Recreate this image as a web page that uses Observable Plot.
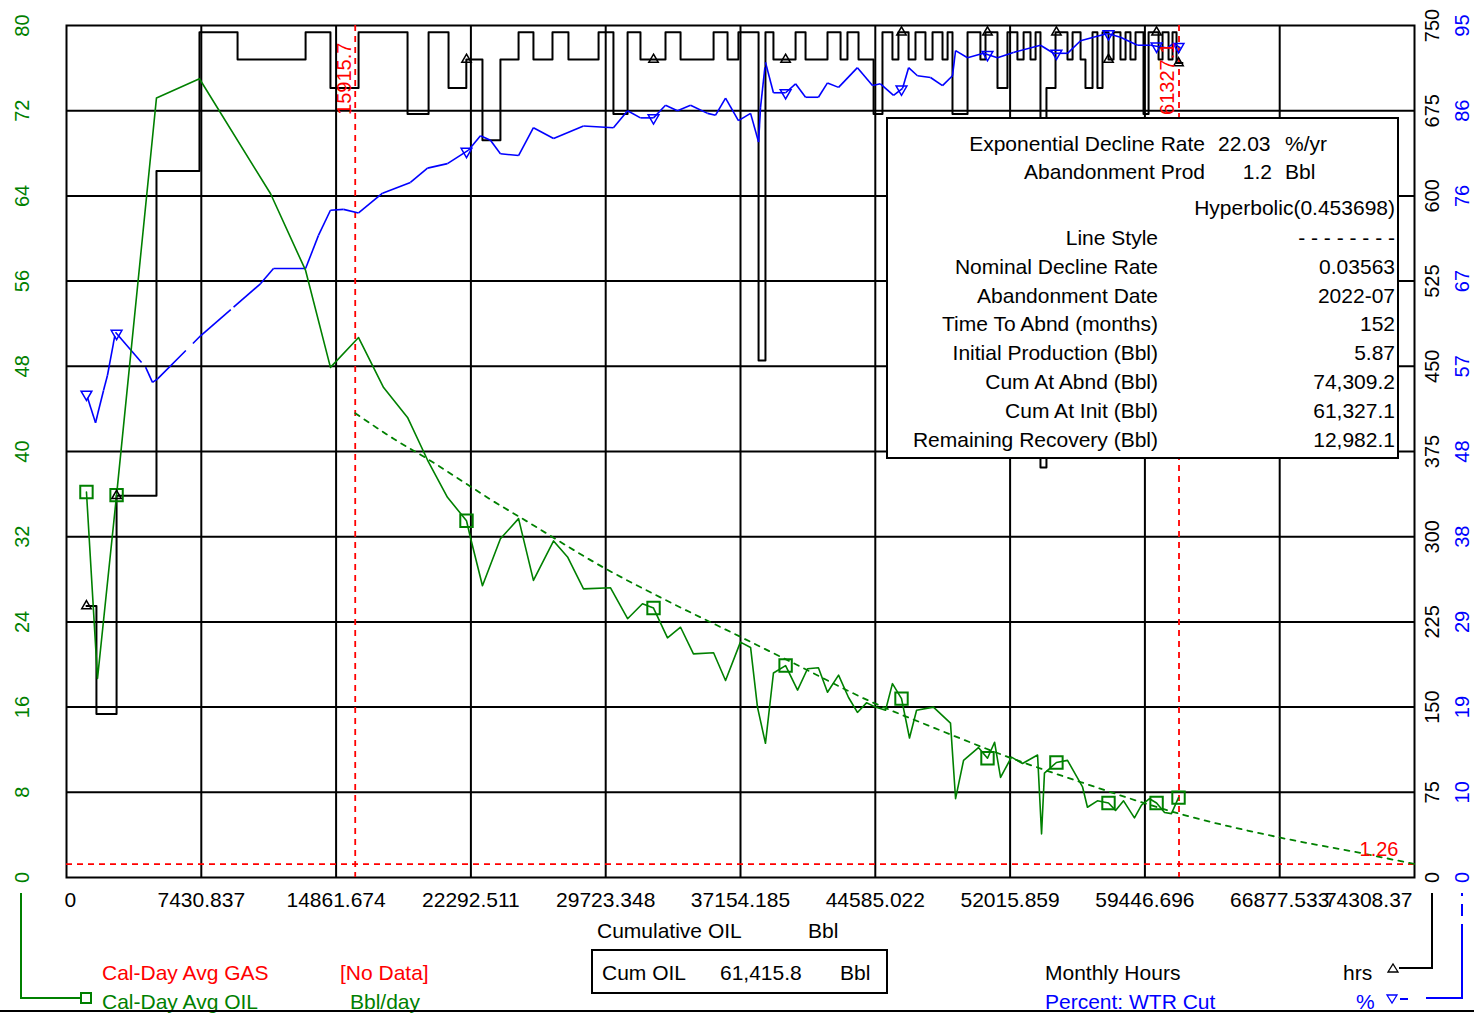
<!DOCTYPE html>
<html><head><meta charset="utf-8">
<script src="https://cdn.jsdelivr.net/npm/d3@7"></script>
<script src="https://cdn.jsdelivr.net/npm/@observablehq/plot@0.6"></script>
<style>
html,body{margin:0;padding:0;background:#fff;overflow:hidden}
#wrap{position:relative;width:1474px;height:1013px;font-family:"Liberation Sans",Arial,sans-serif;overflow:hidden}
.t{position:absolute;white-space:pre;line-height:1;font-size:21px;color:#000}
</style></head><body><div id="wrap"></div>
<script>
const GREEN = "#008000", BLUE = "#0000ff", RED = "#ff0000";

// axis ticks
const xTicks = [0, 7430.837, 14861.674, 22292.511, 29723.348, 37154.185, 44585.022, 52015.859, 59446.696, 66877.533, 74308.37];
const xTickLabels = ["0", "7430.837", "14861.674", "22292.511", "29723.348", "37154.185", "44585.022", "52015.859", "59446.696", "66877.533", "74308.37"];
const oilTicks = [0, 8, 16, 24, 32, 40, 48, 56, 64, 72, 80];
const hoursTicks = [0, 75, 150, 225, 300, 375, 450, 525, 600, 675, 750];
const wtrTickLabels = [0, 10, 19, 29, 38, 48, 57, 67, 76, 86, 95];

// Cal-Day Avg OIL (Bbl/day) vs cumulative oil
const oilHistory = [
[1100,36.2],[1710,18.7],[2760,35.9],[4960,73.2],[7330,75.0],[11250,64.2],[13180,57.0],[14550,47.9],[16100,50.7],[17480,46.0],
[18800,43.2],[19900,39.2],[21000,35.7],[22050,33.5],[22270,31.9],[22930,27.4],[23920,31.8],[24920,33.7],[25740,27.9],[26850,31.6],
[27620,30.1],[28500,27.1],[29990,27.2],[30930,24.3],[31750,25.7],[32360,25.3],[33130,22.5],[33850,23.5],[34560,21.0],[35670,21.1],
[36330,18.5],[37150,22.1],[37710,21.6],[38090,16.0],[38530,12.6],[38970,19.2],[39640,19.9],[40300,17.6],[40850,19.6],[41450,19.7],
[41950,17.4],[42560,19.0],[43110,16.9],[43600,15.5],[44100,16.4],[44600,16.0],[45150,15.7],[45530,18.2],[46030,16.8],[46470,13.1],
[46860,15.7],[47790,16.0],[48730,14.5],[49010,7.4],[49450,11.0],[50270,12.2],[50770,11.2],[51160,12.7],[51490,9.4],[52090,11.3],
[52700,10.7],[53530,11.5],[53750,4.1],[53910,9.8],[54570,10.8],[55180,11.0],[56010,8.5],[56280,6.6],[56830,7.2],[57440,7.0],
[57830,6.3],[58270,7.2],[58870,5.6],[59260,6.8],[59700,7.4],[60090,7.0],[60530,6.1],[60910,6.0],[61300,7.5]
];

// Hyperbolic forecast (dotted)
const forecast = [
[15916,43.6],[18030,41.2],[19900,39.3],[22100,36.9],[23370,35.5],[25030,33.8],[29820,28.9],[32740,26.3],[37150,22.6],
[39750,20.4],[44490,16.4],[47900,14.0],[52090,11.2],[56010,8.9],[61330,6.0],[67030,3.7],[71330,2.3],[74308,1.26]
];

// Percent WTR Cut
const wtrHistory = [
[1160,53.5],[1600,50.7],[2040,54.3],[2260,56.0],[2700,60.8],[4360,56.9],[4740,55.2],[5020,55.6],[7390,60.4],[9210,63.6],
[10690,66.2],[11410,67.9],[13180,67.9],[13890,71.6],[14550,74.4],[15270,74.5],[16100,74.1],[17420,76.3],[18960,77.5],[19900,79.1],
[21000,79.6],[22160,81.1],[22820,82.7],[23370,82.2],[23920,80.7],[24920,80.5],[25740,83.6],[26850,82.4],[28500,83.8],[30150,83.6],
[30930,85.5],[31640,84.7],[32360,84.7],[33020,86.1],[33680,85.5],[34400,86.1],[35340,85.2],[35780,85.0],[36330,86.9],[37040,84.4],
[37710,85.2],[38150,82.0],[38260,85.9],[38530,90.9],[38970,87.5],[39640,87.5],[40190,88.5],[40740,87.0],[41450,87.0],[41950,88.6],
[42560,88.1],[43600,90.3],[44430,88.3],[44870,88.5],[45590,87.2],[46090,88.0],[46420,90.3],[46910,89.4],[47630,89.2],[48290,88.3],
[48840,89.4],[49010,92.2],[49670,91.4],[50550,91.9],[51320,91.4],[52200,92.0],[53690,92.8],[54410,91.9],[55180,91.9],[55900,93.3],
[56610,93.7],[57390,94.1],[58100,93.7],[59040,92.8],[59760,92.8],[60690,92.5],[61020,93.0],[61410,92.5]
];

// Monthly Hours (step starts)
const hoursHistory = [
[1100,239],[1650,144],[2760,336],[4960,622],[7330,744],[9430,720],[13180,744],[14550,695],[16100,744],[18800,672],
[19960,744],[21060,695],[22040,720],[22930,649],[23920,720],[24920,744],[25740,720],[26790,744],[27670,720],[29330,744],
[30150,672],[30930,744],[31640,720],[33020,744],[33850,720],[35670,744],[36440,720],[37040,744],[38150,455],[38530,744],
[38970,720],[40190,744],[40740,720],[41950,744],[42670,720],[43050,744],[43660,720],[44490,672],[44980,744],[45530,720],
[45860,744],[46420,720],[46800,744],[47350,720],[47740,744],[48290,720],[48570,744],[48840,672],[49670,744],[50380,720],
[50660,744],[51320,695],[51870,744],[52420,720],[52760,744],[53140,720],[53420,744],[53690,361],[54020,695],[54520,744],
[55180,720],[55460,744],[55900,720],[56170,695],[56560,744],[56830,695],[57110,744],[57440,720],[57720,744],[58100,720],
[58380,744],[58650,720],[58930,744],[59370,672],[59650,744],[60200,720],[60420,744],[60750,720],[60970,744],[61190,717],[61520,717]
];

// yearly marker positions (cumulative oil)
const markerCum = [1100, 2760, 22050, 32360, 39640, 46030, 50770, 54570, 57440, 60090, 61300];
const cutoffCum = [15915.7, 61327.1];
const abandonRate = 1.26;

// info box
const infoTop = [["Exponential Decline Rate", "22.03", "%/yr"], ["Abandonment Prod", "1.2", "Bbl"]];
const infoModel = "Hyperbolic(0.453698)";
const infoLabels = ["Line Style", "Nominal Decline Rate", "Abandonment Date", "Time To Abnd (months)", "Initial Production (Bbl)", "Cum At Abnd (Bbl)", "Cum At Init (Bbl)", "Remaining Recovery (Bbl)"];
const infoValues = ["- - - - - - - -", "0.03563", "2022-07", "152", "5.87", "74,309.2", "61,327.1", "12,982.1"];

// scale conversions onto the 0-80 oil axis
const H = v => v * 80 / 750;
const W = v => v * 80 / 95;
function interp(arr, c) {
  for (let i = 1; i < arr.length; i++) {
    if (arr[i][0] >= c) {
      const [x0, y0] = arr[i - 1], [x1, y1] = arr[i];
      return y0 + (y1 - y0) * (c - x0) / (x1 - x0);
    }
  }
  return arr[arr.length - 1][1];
}
function stepAt(arr, c) {
  let v = arr[0][1];
  for (const [x, y] of arr) if (x <= c) v = y;
  return v;
}
const wtrSegs = wtrHistory.slice(1).map((p, i) => ({x1: wtrHistory[i][0], y1: W(wtrHistory[i][1]), x2: p[0], y2: W(p[1])}));

const chart = Plot.plot({
  width: 1474, height: 1013,
  marginLeft: 66, marginRight: 60, marginTop: 25, marginBottom: 136,
  x: {domain: [0, 74308.37], axis: null},
  y: {domain: [0, 80], axis: null},
  style: {background: "white", fontFamily: "Liberation Sans, Arial, sans-serif", fontSize: "21px", overflow: "visible"},
  marks: [
    Plot.ruleY(oilTicks.slice(1, -1), {stroke: "#000", strokeWidth: 2}),
    Plot.ruleX(xTicks.slice(1, -1), {stroke: "#000", strokeWidth: 2}),
    Plot.frame({stroke: "#000", strokeWidth: 2}),
    Plot.ruleX(cutoffCum, {stroke: RED, strokeWidth: 1.8, strokeDasharray: "6,5"}),
    Plot.ruleY([abandonRate], {stroke: RED, strokeWidth: 1.8, strokeDasharray: "6,5"}),
    Plot.line(hoursHistory, {x: d => d[0], y: d => H(d[1]), curve: "step-after", stroke: "#000", strokeWidth: 2}),
    Plot.link(wtrSegs, {x1: "x1", y1: "y1", x2: "x2", y2: "y2", stroke: BLUE, strokeWidth: 1.6, strokeDasharray: "40,10"}),
    Plot.line(forecast, {x: d => d[0], y: d => d[1], curve: "monotone-x", stroke: GREEN, strokeWidth: 1.8, strokeDasharray: "5,6"}),
    Plot.line(oilHistory, {x: d => d[0], y: d => d[1], stroke: GREEN, strokeWidth: 1.6}),
    Plot.dot(markerCum, {x: d => d, y: d => interp(oilHistory, d), symbol: "square", r: 7, stroke: GREEN, fill: "none", strokeWidth: 2}),
    Plot.dot(markerCum, {x: d => d, y: d => H(stepAt(hoursHistory, d)), symbol: "triangle", r: 3.5, stroke: "#000", fill: "none", strokeWidth: 1.5}),
    Plot.dot(markerCum, {x: d => d, y: d => W(interp(wtrHistory, d)), symbol: "triangle", rotate: 180, r: 4, stroke: BLUE, fill: "none", strokeWidth: 1.5}),
    // red annotations
    Plot.text(cutoffCum, {x: d => d, y: 75, text: d => String(d), rotate: -90, dx: -11, textAnchor: "middle", fill: RED, fontSize: 20}),
    Plot.text([abandonRate], {x: 74308.37, y: d => d, text: d => String(d), textAnchor: "end", dx: -16, dy: -14, fill: RED, fontSize: 20}),
    // left axis (oil)
    Plot.text(oilTicks, {y: d => d, text: d => String(d), frameAnchor: "left", textAnchor: "middle", lineAnchor: "middle", dx: -44, rotate: -90, fill: GREEN, fontSize: 20}),
    // right axes (hours, wtr)
    Plot.text(hoursTicks, {y: d => H(d), text: d => String(d), frameAnchor: "right", textAnchor: "middle", lineAnchor: "middle", dx: 18, rotate: -90, fill: "#000", fontSize: 20}),
    Plot.text(wtrTickLabels, {y: (d, i) => oilTicks[i], text: d => String(d), frameAnchor: "right", textAnchor: "middle", lineAnchor: "middle", dx: 48, rotate: -90, fill: BLUE, fontSize: 20}),
    // x axis labels
    Plot.text(xTicks.slice(0, 1), {x: d => d, text: (d, i) => xTickLabels[i], frameAnchor: "bottom", lineAnchor: "middle", dy: 23, textAnchor: "start", dx: -2, fill: "#000"}),
    Plot.text(xTicks.slice(1, -1), {x: d => d, text: (d, i) => xTickLabels[i + 1], frameAnchor: "bottom", lineAnchor: "middle", dy: 23, textAnchor: "middle", fill: "#000"}),
    Plot.text(xTicks.slice(-1), {x: d => d, text: () => xTickLabels[xTickLabels.length - 1], frameAnchor: "bottom", lineAnchor: "middle", dy: 23, textAnchor: "end", dx: -2, fill: "#000"})
  ]
});
const wrap = document.getElementById("wrap");
chart.style.position = "absolute"; chart.style.left = "0"; chart.style.top = "0";
wrap.appendChild(chart);

function txt(s, x, y, o = {}) {
  const d = document.createElement("div");
  d.className = "t"; d.textContent = s;
  d.style.left = x + "px"; d.style.top = y + "px";
  const a = o.anchor === "end" ? "-100%" : o.anchor === "middle" ? "-50%" : "0";
  d.style.transform = `translate(${a},-50%)`;
  if (o.color) d.style.color = o.color;
  if (o.size) d.style.fontSize = o.size + "px";
  wrap.appendChild(d);
}
function box(x, y, w, h, border) {
  const d = document.createElement("div");
  Object.assign(d.style, {position: "absolute", left: x + "px", top: y + "px", width: w + "px", height: h + "px", border: border, background: "#fff", boxSizing: "border-box"});
  wrap.appendChild(d);
}

// info box
box(886, 117, 513, 342, "2px solid #000");
txt(infoTop[0][0], 1205, 143, {anchor: "end"});
txt(infoTop[0][1], 1218, 143);
txt(infoTop[0][2], 1285, 143);
txt(infoTop[1][0], 1205, 171, {anchor: "end"});
txt(infoTop[1][1], 1272, 171, {anchor: "end"});
txt(infoTop[1][2], 1285, 171);
txt(infoModel, 1395, 207, {anchor: "end"});
const rowY = [237, 266, 295, 323, 352, 381, 410, 439];
infoLabels.forEach((l, i) => {
  txt(l, 1158, rowY[i], {anchor: "end"});
  txt(infoValues[i], 1395, rowY[i], {anchor: "end"});
});

// x axis title
txt("Cumulative OIL", 597, 930);
txt("Bbl", 808, 930);
// cum box
box(591, 949, 297, 45, "2px solid #000");
txt("Cum OIL", 602, 972);
txt("61,415.8", 720, 972);
txt("Bbl", 840, 972);

// legends
txt("Cal-Day Avg GAS", 102, 972, {color: RED});
txt("[No Data]", 340, 972, {color: RED});
txt("Cal-Day Avg OIL", 102, 1001, {color: GREEN});
txt("Bbl/day", 350, 1001, {color: GREEN});
txt("Monthly Hours", 1045, 972);
txt("hrs", 1343, 972);
txt("Percent: WTR Cut", 1045, 1001, {color: BLUE});
txt("%", 1356, 1001, {color: BLUE});

// legend connectors
const ov = d3.select(wrap).append("svg").attr("width", 1474).attr("height", 1013)
  .style("position", "absolute").style("left", 0).style("top", 0).style("pointer-events", "none");
ov.append("path").attr("d", "M21,893 V998 H80").attr("fill", "none").attr("stroke", GREEN).attr("stroke-width", 2);
ov.append("rect").attr("x", 81).attr("y", 993).attr("width", 10).attr("height", 10).attr("fill", "#fff").attr("stroke", GREEN).attr("stroke-width", 2);
ov.append("path").attr("d", "M1399,968 H1432 V893").attr("fill", "none").attr("stroke", "#000").attr("stroke-width", 2);
ov.append("path").attr("d", "M1388,972 L1393,964 L1398,972 Z").attr("fill", "none").attr("stroke", "#000").attr("stroke-width", 1.3);
ov.append("path").attr("d", "M1426,998 H1462 V893").attr("fill", "none").attr("stroke", BLUE).attr("stroke-width", 2).attr("stroke-dasharray", "110,8,12,8");
ov.append("path").attr("d", "M1400,999 H1408").attr("stroke", BLUE).attr("stroke-width", 2);
ov.append("path").attr("d", "M1387,995 L1397,995 L1392,1003 Z").attr("fill", "none").attr("stroke", BLUE).attr("stroke-width", 1.3);
ov.append("path").attr("d", "M0,1011 H1474").attr("stroke", "#000").attr("stroke-width", 2);
</script></body></html>
